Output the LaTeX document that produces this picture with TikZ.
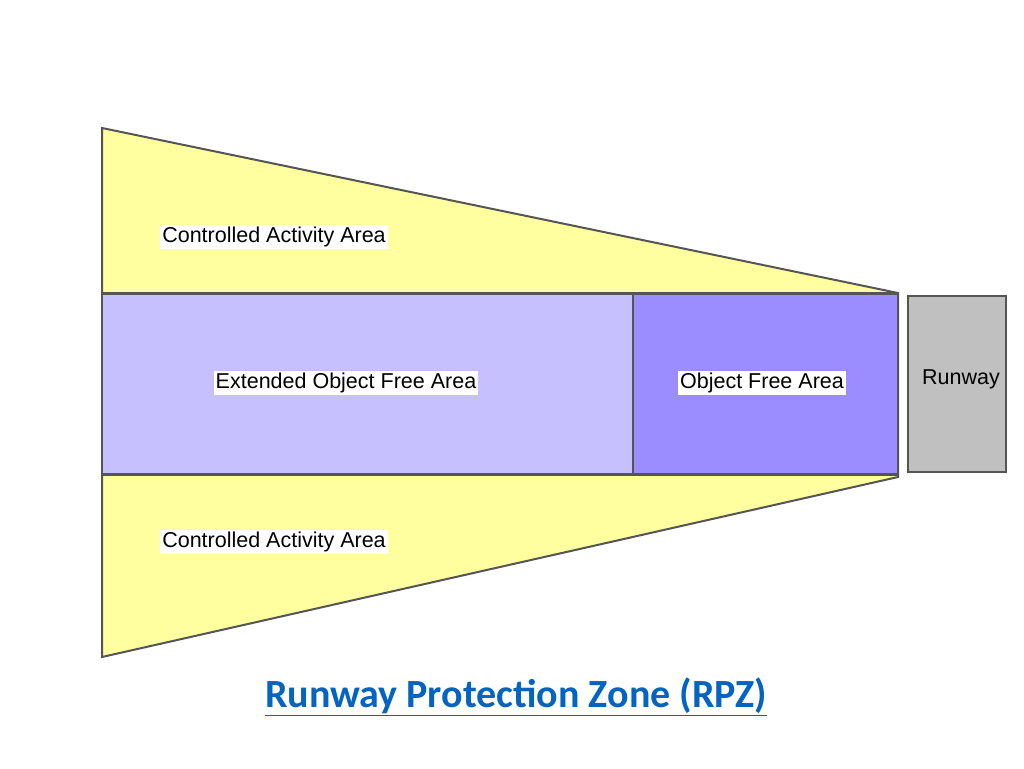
\documentclass[tikz,border=0pt]{standalone}
\usepackage{fontspec}
\setmainfont{Liberation Sans}
\newfontfamily\titlefont{Carlito}
\definecolor{caa}{HTML}{FFFFA0}
\definecolor{eofa}{HTML}{C6C0FF}
\definecolor{ofa}{HTML}{9B8CFF}
\definecolor{rw}{HTML}{C0C0C0}
\definecolor{edge}{HTML}{555555}
\definecolor{ttl}{HTML}{0563C1}
\begin{document}
\begin{tikzpicture}[x=1pt,y=-1pt,
  lbl/.style={fill=white,inner sep=2pt,font=\fontsize{21.5}{25}\selectfont},
  zone/.style={draw=edge,line width=2pt}]
\useasboundingbox (0,0) rectangle (1024,768);
\fill[white] (0,0) rectangle (1024,768);
\draw[zone,fill=caa] (102,128) -- (898,293) -- (898,477) -- (102,657) -- cycle;
\draw[zone,fill=eofa] (102,293) rectangle (633,474);
\draw[zone,fill=ofa,line width=1.2pt] (633,293) rectangle (898,474);
\draw[line width=3pt,edge] (102,293) -- (898,293) (102,474) -- (898,474);
\draw[zone,fill=rw] (908,296) rectangle (1006,472);
\node[lbl] (c1) at (274,237) {Controlled Activity Area};
\node[lbl] (c2) at (274,542) {Controlled Activity Area};
\node[lbl] (e) at (346,383) {Extended Object Free Area};
\node[lbl] (o) at (762,383) {Object Free Area};
\node[font=\fontsize{21.5}{25}\selectfont,inner sep=0pt,anchor=west] (r) at (922,379) {Runway};
\node[font=\titlefont\bfseries\fontsize{40}{46}\selectfont,text=ttl] (t) at (516,697) {\underline{Runway Protection Zone (RPZ)}};
\end{tikzpicture}
\end{document}
